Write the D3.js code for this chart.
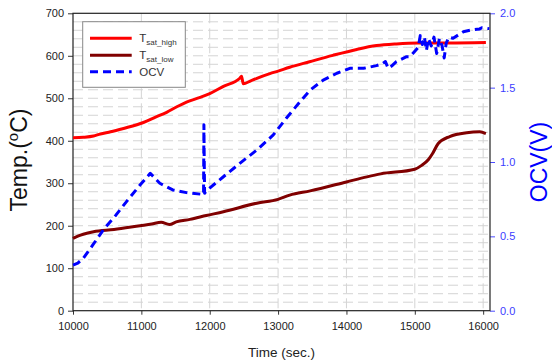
<!DOCTYPE html>
<html><head><meta charset="utf-8">
<script src="https://cdn.jsdelivr.net/npm/d3@7"></script>
<style>
body{margin:0;background:#fff;}
text{font-family:Arial,"Liberation Sans",sans-serif;}
</style></head>
<body><svg id="c" width="552" height="363"></svg>
<script>
// ---- data ----
const timeHigh = [10000,10150,10300,10400,10550,10740,11030,11200,11370,11520,11660,11860,12000,12200,12440,12466,12490,12600,12690,12880,13000,13170,13460,13800,14150,14440,14730,15050,15500,16040];
const tHigh    = [407,408,411,416,421,429,443,455,467,480,491,502,511,528,547,552,534,541,547,558,564,573,586,601,615,624,628,630,630,631];

const timeLow = [10000,10080,10150,10300,10600,10980,11150,11290,11410,11510,11710,11950,12200,12690,13000,13170,13470,14000,14300,14500,15000,15100,15200,15260,15340,15510,15760,15950,16040];
const tLow    = [170,176,180,186,191,200,204,208,203,209,215,224,233,253,262,272,282,303,315,322,333,342,356,370,393,410,419,421,417];

const timeOcv = [10000,10070,10150,10290,10460,10630,10800,10980,11130,11270,11460,11660,11880,11910,11915,11920,11925,11960,12200,12440,12690,12930,13120,13320,13470,13660,13860,14050,14250,14440,14520,14570,14610,14660,14730,14880,14930,15050,15080,15110,15140,15170,15200,15240,15280,15320,15360,15400,15430,15460,15500,15560,15710,15830,15950,15980,16090];
const ocv     = [0.307,0.32,0.352,0.442,0.554,0.644,0.744,0.845,0.924,0.857,0.812,0.794,0.783,0.783,1.25,1.0,0.79,0.81,0.901,0.991,1.081,1.182,1.294,1.405,1.484,1.551,1.597,1.630,1.630,1.648,1.66,1.675,1.63,1.645,1.675,1.708,1.708,1.77,1.85,1.79,1.84,1.75,1.83,1.78,1.84,1.73,1.83,1.78,1.70,1.80,1.84,1.832,1.876,1.888,1.895,1.903,1.897];

const xTicks = [10000,11000,12000,13000,14000,15000,16000];
const yLeftTicks = [0,100,200,300,400,500,600,700];
const yRightTicks = [0,0.5,1.0,1.5,2.0];
const legendLabels = [["T","sat_high"],["T","sat_low"],["OCV",""]];
const colors = ["#ff0000","#800000","#0000ff"];

// ---- layout ----
const L=73, R=490, T=13.3, B=310.7;
const svg = d3.select("#c");
const x = d3.scaleLinear().domain([10000,16100]).range([L,R]);
const yL = d3.scaleLinear().domain([0,700]).range([B,T]);
const yR = d3.scaleLinear().domain([0,2]).range([B,T]);

// grid
const g = svg.append("g");
g.selectAll(".hg").data(d3.range(20,700,20)).enter().append("line")
  .attr("x1",L).attr("x2",R).attr("y1",d=>yL(d)).attr("y2",d=>yL(d))
  .attr("stroke","#d4d4d4").attr("stroke-width",1).attr("stroke-dasharray","10,5");
g.selectAll(".vg").data(xTicks.slice(1)).enter().append("line")
  .attr("x1",d=>x(d)).attr("x2",d=>x(d)).attr("y1",T).attr("y2",B)
  .attr("stroke","#d4d4d4").attr("stroke-width",1).attr("stroke-dasharray","10,5");

// axes
const axB = svg.append("g").attr("transform",`translate(0,${B})`)
  .call(d3.axisBottom(x).tickValues(xTicks).tickFormat(d3.format("d")).tickSize(4).tickSizeOuter(0));
const axL = svg.append("g").attr("transform",`translate(${L},0)`)
  .call(d3.axisLeft(yL).tickValues(yLeftTicks).tickFormat(d3.format("d")).tickSize(5).tickSizeOuter(0));
const axR = svg.append("g").attr("transform",`translate(${R},0)`)
  .call(d3.axisRight(yR).tickValues(yRightTicks).tickFormat(d3.format(".1f")).tickSize(5).tickSizeOuter(0));
[axB,axL].forEach(a=>{a.select(".domain").remove();a.selectAll("line").attr("stroke","#333");
  a.selectAll("text").attr("fill","#222").style("font-size","11px");});
axB.selectAll("text").attr("dy","1.1em");
axL.selectAll("text").attr("x",-9);
axR.select(".domain").remove();
axR.selectAll("line").attr("stroke","#4a4aff");
axR.selectAll("text").attr("fill","#3c3cff").style("font-size","11px").attr("x",10);

// box
svg.append("rect").attr("x",L).attr("y",T).attr("width",R-L).attr("height",B-T)
  .attr("fill","none").attr("stroke","#222").attr("stroke-width",1.2);

// lines
const lineL = d3.line().x(d=>x(d[0])).y(d=>yL(d[1])).curve(d3.curveMonotoneX);
const lineR = d3.line().x(d=>x(d[0])).y(d=>yR(d[1]));
svg.append("path").datum(d3.zip(timeHigh,tHigh)).attr("d",lineL)
  .attr("fill","none").attr("stroke",colors[0]).attr("stroke-width",3).attr("stroke-linejoin","round");
svg.append("path").datum(d3.zip(timeLow,tLow)).attr("d",lineL)
  .attr("fill","none").attr("stroke",colors[1]).attr("stroke-width",3).attr("stroke-linejoin","round");
svg.append("path").datum(d3.zip(timeOcv,ocv)).attr("d",lineR)
  .attr("fill","none").attr("stroke",colors[2]).attr("stroke-width",3).attr("stroke-dasharray","8,5").attr("stroke-linejoin","round");

// legend
const lg = svg.append("g");
lg.append("rect").attr("x",82.7).attr("y",21.7).attr("width",102.6).attr("height",65.6)
  .attr("fill","#fff").attr("stroke","#888").attr("stroke-width",1);
const ly=[38.3,55.3,71.7];
legendLabels.forEach((lab,i)=>{
  lg.append("line").attr("x1",90).attr("x2",131.7).attr("y1",ly[i]).attr("y2",ly[i])
    .attr("stroke",colors[i]).attr("stroke-width",3).attr("stroke-dasharray",i==2?"8,5":null);
  const t = lg.append("text").attr("x",139.3).attr("y",ly[i]+4).attr("fill","#333").style("font-size","11.5px");
  t.append("tspan").text(lab[0]);
  if(lab[1]) t.append("tspan").attr("dy",3).style("font-size","8px").text(lab[1]);
});

// axis titles
svg.append("text").attr("x",281.5).attr("y",357).attr("text-anchor","middle")
  .attr("fill","#222").style("font-size","13.5px").text("Time (sec.)");
const yt = svg.append("text").attr("transform","translate(27,160) rotate(-90)")
  .attr("text-anchor","middle").attr("fill","#111").style("font-size","23px");
yt.append("tspan").text("Temp.(");
yt.append("tspan").attr("dy",-9).style("font-size","15px").text("o");
yt.append("tspan").attr("dy",9).text("C)");
svg.append("text").attr("transform","translate(547,162) rotate(-90)")
  .attr("text-anchor","middle").attr("fill","#0000ff").style("font-size","23px").text("OCV(V)");
</script></body></html>
